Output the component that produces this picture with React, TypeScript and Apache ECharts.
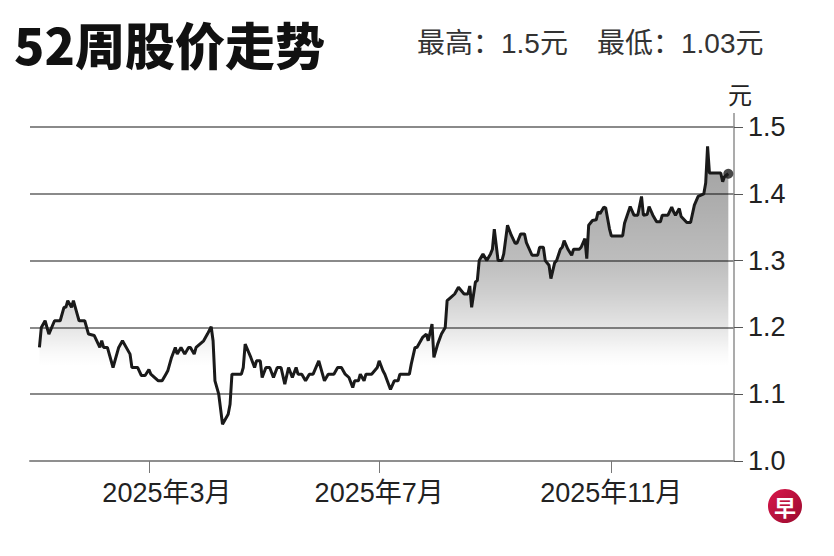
import { useEffect, useRef } from "react";
import * as echarts from "echarts";

const TITLE = "52周股价走势";
const HIGH_TEXT = "最高：1.5元";
const LOW_TEXT = "最低：1.03元";
const UNIT = "元";
const LOGO = "早";

// tick months shown on the date axis
const MONTH_TICKS: [number, number][] = [
  [2025, 3],
  [2025, 7],
  [2025, 11],
];

// trading days, counted as days since 2025-01-01
const DAYS = [
  1, 2, 4, 6, 9, 12, 14, 15, 16, 18, 19, 21, 22, 25, 27, 30, 33, 34, 35, 37,
  40, 43, 45, 49, 50, 53, 55, 57, 59, 60, 64, 66, 68, 69, 71, 73, 74, 76, 78, 80,
  81, 83, 84, 86, 88, 90, 92, 93, 94, 96, 98, 101, 102, 103, 108, 109, 110, 113, 115, 116,
  118, 119, 121, 123, 125, 127, 129, 131, 133, 135, 137, 138, 140, 142, 144, 146, 149, 152, 154, 157,
  159, 161, 163, 165, 167, 168, 170, 171, 173, 174, 177, 180, 181, 183, 184, 187, 189, 191, 192, 197,
  198, 200, 201, 204, 206, 207, 209, 210, 212, 214, 216, 217, 219, 221, 223, 226, 228, 229, 230, 232,
  233, 234, 236, 238, 240, 241, 242, 244, 246, 247, 249, 251, 253, 254, 256, 258, 259, 262, 265, 266,
  268, 269, 271, 272, 274, 275, 277, 278, 279, 281, 283, 284, 287, 288, 290, 291, 292, 294, 296, 297,
  298, 300, 301, 303, 304, 310, 311, 314, 316, 318, 320, 321, 323, 324, 326, 328, 330, 331, 334, 336,
  337, 338, 340, 341, 344, 346, 348, 350, 353, 354, 355, 356, 360, 362, 363, 364, 366,
];

// closing price (元)
const PRICES = [
  1.17, 1.2, 1.21, 1.19, 1.21, 1.21, 1.23, 1.23, 1.24, 1.23, 1.24, 1.22, 1.21, 1.21, 1.19, 1.188, 1.17, 1.18, 1.17, 1.17,
  1.14, 1.17, 1.18, 1.16, 1.14, 1.14, 1.128, 1.128, 1.137, 1.13, 1.12, 1.12, 1.13, 1.135, 1.155, 1.17, 1.16, 1.17, 1.16, 1.17,
  1.17, 1.16, 1.17, 1.175, 1.18, 1.19, 1.201, 1.18, 1.12, 1.1, 1.055, 1.07, 1.085, 1.13, 1.13, 1.14, 1.175, 1.155, 1.14, 1.15,
  1.15, 1.125, 1.14, 1.14, 1.125, 1.14, 1.14, 1.115, 1.14, 1.125, 1.14, 1.13, 1.13, 1.12, 1.13, 1.13, 1.15, 1.12, 1.13, 1.13,
  1.14, 1.14, 1.13, 1.125, 1.11, 1.12, 1.12, 1.13, 1.12, 1.13, 1.13, 1.14, 1.15, 1.135, 1.13, 1.107, 1.12, 1.12, 1.13, 1.13,
  1.145, 1.17, 1.17, 1.185, 1.19, 1.18, 1.205, 1.155, 1.175, 1.19, 1.2, 1.24, 1.245, 1.25, 1.26, 1.25, 1.25, 1.262, 1.23, 1.268,
  1.27, 1.3, 1.31, 1.3, 1.31, 1.317, 1.347, 1.3, 1.3, 1.31, 1.353, 1.338, 1.326, 1.326, 1.34, 1.34, 1.327, 1.308, 1.308, 1.32,
  1.32, 1.3, 1.293, 1.273, 1.297, 1.3, 1.317, 1.32, 1.33, 1.317, 1.308, 1.317, 1.317, 1.32, 1.333, 1.303, 1.353, 1.36, 1.361, 1.373,
  1.37, 1.38, 1.379, 1.348, 1.337, 1.337, 1.356, 1.381, 1.368, 1.368, 1.396, 1.368, 1.369, 1.381, 1.368, 1.358, 1.358, 1.368, 1.368, 1.38,
  1.373, 1.368, 1.378, 1.366, 1.357, 1.357, 1.383, 1.396, 1.4, 1.416, 1.471, 1.431, 1.431, 1.431, 1.418, 1.426, 1.43,
];

const FONT = "'Liberation Sans', 'Noto Sans CJK SC', sans-serif";
const CJK = "'Noto Sans CJK SC', sans-serif";

const toTime = (d: number) => new Date(2025, 0, 1 + d).getTime();

function textEl(x: number, y: number, text: string, font: string, fill: string, align = "left") {
  return {
    type: "text",
    x,
    y,
    style: {
      text,
      font,
      fill,
      align,
      verticalAlign: "middle",
      textAlign: align,
      textVerticalAlign: "middle",
    },
  };
}

export default function App() {
  const ref = useRef<HTMLDivElement>(null);

  useEffect(() => {
    if (!ref.current) return;
    const chart = echarts.init(ref.current, undefined, { renderer: "svg" });

    const points = DAYS.map((d, i) => [toTime(d), PRICES[i]]);
    const last = points[points.length - 1];
    const monthValues = MONTH_TICKS.map(([y, m]) => new Date(y, m - 1, 1).getTime());

    const option: any = {
      animation: false,
      backgroundColor: "#fff",
      textStyle: { fontFamily: FONT },
      grid: { left: 30, right: 100, top: 127, bottom: 95 },
      xAxis: {
        type: "value",
        min: new Date(2024, 11, 28).getTime(),
        max: new Date(2026, 0, 5).getTime(),
        axisLine: { show: true, lineStyle: { color: "#8f8f8f", width: 2 } },
        axisTick: {
          show: true,
          length: 12,
          customValues: monthValues,
          lineStyle: { color: "#777", width: 1 },
        },
        axisLabel: {
          customValues: monthValues,
          formatter: (v: number) => {
            const d = new Date(v);
            const s = `${d.getFullYear()}年${d.getMonth() + 1}月`;
            // the first label sits a little right of its tick
            return v === monthValues[0] ? `{shift|${s}}` : `{m|${s}}`;
          },
          rich: {
            m: { fontSize: 27, color: "#222", fontFamily: FONT },
            shift: { fontSize: 27, color: "#222", fontFamily: FONT, padding: [0, 0, 0, 36] },
          },
          fontSize: 27,
          color: "#222",
          margin: 18,
          fontFamily: FONT,
        },
        splitLine: { show: false },
      },
      yAxis: {
        type: "value",
        position: "right",
        min: 1.0,
        max: 1.5,
        interval: 0.1,
        axisLine: { show: true, lineStyle: { color: "#8f8f8f", width: 1.5 } },
        axisTick: { show: true, length: 9, lineStyle: { color: "#555", width: 1 } },
        axisLabel: {
          formatter: (v: number) => v.toFixed(1),
          fontSize: 27,
          color: "#222",
          margin: 14,
          fontFamily: FONT,
        },
        splitLine: { show: true, lineStyle: { color: "#8a8a8a", width: 2 } },
      },
      series: [
        {
          type: "line",
          data: points,
          showSymbol: false,
          z: 3,
          lineStyle: { color: "#1a1a1a", width: 3 },
          areaStyle: {
            color: new echarts.graphic.LinearGradient(0, 0, 0, 1, [
              { offset: 0, color: "rgba(0,0,0,0.53)" },
              { offset: 0.15, color: "rgba(0,0,0,0.47)" },
              { offset: 0.36, color: "rgba(0,0,0,0.37)" },
              { offset: 0.47, color: "rgba(0,0,0,0.27)" },
              { offset: 0.58, color: "rgba(0,0,0,0.14)" },
              { offset: 0.66, color: "rgba(0,0,0,0.03)" },
              { offset: 0.7, color: "rgba(0,0,0,0)" },
              { offset: 1, color: "rgba(0,0,0,0)" },
            ]),
          },
        },
        {
          type: "scatter",
          data: [last],
          symbol: "circle",
          symbolSize: 10,
          z: 4,
          itemStyle: { color: "#1a1a1a" },
        },
      ],
      graphic: [
        textEl(14, 43, TITLE, `900 50px ${CJK}`, "#111"),
        textEl(417, 43, HIGH_TEXT, `28px ${FONT}`, "#333"),
        textEl(597, 43, LOW_TEXT, `28px ${FONT}`, "#333"),
        textEl(740, 93, UNIT, `24px ${CJK}`, "#222", "center"),
        {
          type: "line",
          shape: { x1: 734, y1: 113, x2: 734, y2: 127 },
          style: { stroke: "#8f8f8f", lineWidth: 1.5 },
        },
        {
          type: "circle",
          shape: { cx: 785, cy: 506, r: 17 },
          style: {
            fill: new echarts.graphic.LinearGradient(0, 0, 1, 1, [
              { offset: 0, color: "#d8164a" },
              { offset: 1, color: "#9b0c2f" },
            ]),
          },
        },
        textEl(785, 506, LOGO, `bold 22px ${CJK}`, "#fff", "center"),
      ],
    };

    chart.setOption(option);
    return () => chart.dispose();
  }, []);

  return (
    <div
      ref={ref}
      style={{ position: "fixed", left: 0, top: 0, width: 834, height: 556, background: "#fff" }}
    />
  );
}
